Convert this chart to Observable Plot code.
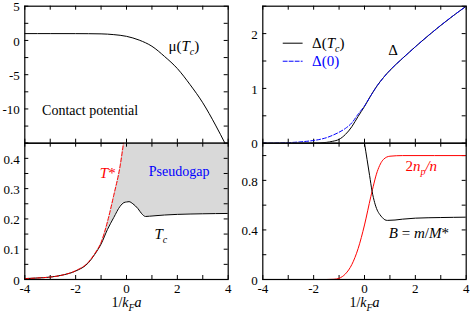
<!DOCTYPE html>
<html><head><meta charset="utf-8">
<script src="https://cdn.jsdelivr.net/npm/d3@7"></script>
<script src="https://cdn.jsdelivr.net/npm/@observablehq/plot@0.6"></script>
<style>
body{margin:0;background:#fff;}
#chart{position:relative;width:471px;height:315px;overflow:hidden;background:#fff;}
#chart svg{position:absolute;left:0;top:0;}
#chart svg, #chart svg text, #chart svg g{font-family:"Liberation Serif","Times New Roman",serif !important;}
</style></head><body><div id="chart"></div>
<script>
// ---------- data ----------
const xTickValues = [-4,-3,-2,-1,0,1,2,3,4];
const xTickLabels = [-4,-2,0,2,4];

// top-left: chemical potential mu(Tc)
const muX = [-4,-3,-2,-1.5,-1,-0.5,0,0.5,1,1.5,2,2.5,3,3.5,3.9];
const muV = [1.0,1.0,0.995,0.985,0.96,0.85,0.6,0.05,-0.85,-2.35,-4.1,-6.45,-9.1,-12.35,-15.2];
const muTicks = [-15,-12.5,-10,-7.5,-5,-2.5,0,2.5,5];
const muLabels = [-10,-5,0,5];

// bottom-left: Tc and T*
const tX =     [-4,-3.5,-3,-2.5,-2,-1.5,-1.25,-1,-0.75,-0.5,-0.25,-0.1,0,0.1,0.25,0.45,0.6,0.75,0.9,1.2,1.5,2,3,4];
const tcV =    [0.003,0.005,0.008,0.015,0.028,0.055,0.083,0.117,0.165,0.205,0.242,0.254,0.256,0.257,0.25,0.234,0.217,0.208,0.209,0.211,0.213,0.215,0.217,0.218];
const tStarV = [0.003,0.005,0.008,0.015,0.029,0.057,0.085,0.122,0.19,0.278,0.375,0.46,0.52,null,null,null,null,null,null,null,null,null,null,null];
const tTicks = [0,0.05,0.1,0.15,0.2,0.25,0.3,0.35,0.4,0.45];
const tLabels = [0,0.1,0.2,0.3,0.4];

// top-right: gap Delta
const dX =   [-4,-3.5,-3,-2.5,-2,-1.75,-1.5,-1.25,-1,-0.75,-0.5,-0.25,0,0.25,0.5,0.75,1,1.5,2,2.5,3,3.5,4];
const dTcV = [0,0,0,0,0.002,0.005,0.015,0.035,0.07,0.16,0.3,0.49,0.67,0.87,1.05,1.2,1.33,1.55,1.76,1.96,2.15,2.33,2.5];
const d0V =  [0,0.003,0.01,0.025,0.05,0.07,0.1,0.145,0.2,0.27,0.37,0.53,0.68,0.87,1.05,1.2,1.33,1.55,1.76,1.96,2.15,2.33,2.5];
const dTicks = [0,0.5,1,1.5,2,2.5];
const dLabels = [0,1,2];

// bottom-right: pair fraction and B = m/M*
const npX = [-4,-1.5,-1.2,-1,-0.75,-0.5,-0.25,0,0.25,0.5,0.75,1,1.5,4];
const npV = [0,0,0.002,0.01,0.045,0.12,0.25,0.44,0.67,0.87,0.97,0.995,1.0,1.0];
const bX = [0,0.1,0.2,0.3,0.4,0.5,0.6,0.7,0.8,0.9,1.2,1.5,2,3,4];
const bV = [1.1,0.97,0.84,0.71,0.62,0.56,0.525,0.5,0.482,0.477,0.48,0.487,0.495,0.5,0.503];
const rTicks = [0,0.2,0.4,0.6,0.8,1.0];
const rLabels = [0,0.4,0.8];

// annotation anchors (data units)
const legendLineX = [-3.2,-2.45];
const legendRows = [{key:"Δ(Tc)", y:1.825, color:"#000", dash:null},{key:"Δ(0)", y:1.496, color:"#0000ff", dash:"4,2"}];

// ---------- helpers ----------
const W = 471, H = 315;
const colL = {marginLeft:24.3, marginRight:243.3};
const colR = {marginLeft:262.3, marginRight:5.3};
const rowT = {marginTop:5.7, marginBottom:172.3};
const rowB = {marginTop:142.7, marginBottom:36};
const FONT = "Liberation Serif";
const rows = (xs, ys) => xs.map((x,i)=>({x, y: ys[i]})).filter(d=>d.y!=null);

const rich = {
  "μ(Tc)": 'μ(<tspan font-style="italic">T</tspan><tspan font-style="italic" font-size="10" dy="4">c</tspan><tspan dy="-4">)</tspan>',
  "Δ(Tc)": 'Δ(<tspan font-style="italic">T</tspan><tspan font-style="italic" font-size="10" dy="4">c</tspan><tspan dy="-4">)</tspan>',
  "Tc": '<tspan font-style="italic">T</tspan><tspan font-style="italic" font-size="10" dy="4">c</tspan>',
  "T*": '<tspan font-style="italic">T</tspan>*',
  "2np/n": '2<tspan font-style="italic">n</tspan><tspan font-style="italic" font-size="10" dy="4">p</tspan><tspan font-style="italic" dy="-4">/n</tspan>',
  "B = m/M*": '<tspan font-style="italic">B</tspan> = <tspan font-style="italic">m</tspan>/<tspan font-style="italic">M</tspan>*',
  "1/kFa": '1/<tspan font-style="italic">k</tspan><tspan font-style="italic" font-size="10" dy="4">F</tspan><tspan font-style="italic" dy="-4">a</tspan>'
};

function panel(cfg) {
  const m = {...cfg.col, ...cfg.row};
  const pw = W - m.marginLeft - m.marginRight;
  const ph = H - m.marginTop - m.marginBottom;
  const T = 4;
  const marks = [
    ...(cfg.under || []),
    Plot.tickX(xTickValues, {x: d=>d, insetTop: ph - T, stroke:"#000"}),
    Plot.tickX(xTickValues, {x: d=>d, insetBottom: ph - T, stroke:"#000"}),
    Plot.tickY(cfg.yTicks, {y: d=>d, insetRight: pw - T, stroke:"#000"}),
    Plot.tickY(cfg.yTicks, {y: d=>d, insetLeft: pw - T, stroke:"#000"}),
    Plot.axisY({ticks: cfg.yLabels, anchor:"left", tickSize:0, tickPadding:5, dy:1, tickFormat: d=>String(d), label:null, fill:"#000", fontSize:13}),
    ...(cfg.xAxis ? [
      Plot.axisX({ticks: xTickLabels, anchor:"bottom", tickSize:0, tickPadding:4, tickFormat: d=>String(d), label:null, fill:"#000", fontSize:13}),
      Plot.text(["1/kFa"], {frameAnchor:"bottom", dy:27, fontSize:14, fill:"#000"})
    ] : []),
    ...(cfg.over || []),
    Plot.frame({stroke:"#000", strokeWidth:1.2})
  ];
  const svg = Plot.plot({
    width: W, height: H, ...m,
    x: {domain:[-4,4], axis:null},
    y: {domain: cfg.yDomain, axis:null},
    style: {fontFamily: FONT, fontSize:"13px", background:"transparent", overflow:"visible", color:"#000"},
    marks
  });
  svg.setAttribute("font-family", FONT);
  svg.querySelectorAll("text").forEach(t => {
    const k = t.textContent;
    if (rich[k]) t.innerHTML = rich[k];
  });
  document.getElementById("chart").appendChild(svg);
}

// top-left
panel({
  col: colL, row: rowT, yDomain: [-15,5], yTicks: muTicks, yLabels: muLabels,
  over: [
    Plot.line(rows(muX, muV), {x:"x", y:"y", stroke:"#000", strokeWidth:1, curve:"monotone-x", clip:true}),
    Plot.text(["μ(Tc)"], {x:1.65, y:-0.77, textAnchor:"start", fontSize:15}),
    Plot.text(["Contact potential"], {x:-3.32, y:-10.3, textAnchor:"start", fontSize:14})
  ]
});

// bottom-left
const yMaxB = 0.45;
const areaRows = tX.map((x,i)=>({x, lo: tcV[i], hi: tStarV[i]==null ? yMaxB : Math.min(tStarV[i], yMaxB)}));
panel({
  col: colL, row: rowB, yDomain: [0, yMaxB], yTicks: tTicks, yLabels: tLabels, xAxis: true,
  under: [
    Plot.areaY(areaRows, {x:"x", y1:"lo", y2:"hi", fill:"#d9d9d9", curve:"monotone-x", clip:true})
  ],
  over: [
    Plot.line(rows(tX, tcV), {x:"x", y:"y", stroke:"#000", strokeWidth:1, curve:"monotone-x", clip:true}),
    Plot.line(rows(tX, tStarV), {x:"x", y:"y", stroke:"#ff0000", strokeWidth:1, strokeDasharray:"4,2", curve:"monotone-x", clip:true}),
    Plot.text(["T*"], {x:-1.05, y:0.352, textAnchor:"start", fontSize:15, fill:"#ff0000"}),
    Plot.text(["Pseudogap"], {x:0.877, y:0.355, textAnchor:"start", fontSize:14, fill:"#0000ff"}),
    Plot.text(["Tc"], {x:1.10, y:0.149, textAnchor:"start", fontSize:15})
  ]
});

// top-right
panel({
  col: colR, row: rowT, yDomain: [0,2.5], yTicks: dTicks, yLabels: dLabels,
  over: [
    Plot.line(rows(dX, dTcV), {x:"x", y:"y", stroke:"#000", strokeWidth:1, curve:"monotone-x", clip:true}),
    Plot.line(rows(dX, d0V), {x:"x", y:"y", stroke:"#0000ff", strokeWidth:1, strokeDasharray:"4,2", curve:"monotone-x", clip:true}),
    ...legendRows.map(r => Plot.line(legendLineX.map(x=>({x, y:r.y})), {x:"x", y:"y", stroke:r.color, strokeWidth:1, strokeDasharray:r.dash})),
    Plot.text(legendRows, {x:()=>-2.06, y:"y", text:"key", fill:"color", textAnchor:"start", fontSize:15}),
    Plot.text(["Δ"], {x:1.12, y:1.69, fontSize:15})
  ]
});

// bottom-right
panel({
  col: colR, row: rowB, yDomain: [0,1.1], yTicks: rTicks, yLabels: rLabels, xAxis: true,
  over: [
    Plot.line(rows(npX, npV), {x:"x", y:"y", stroke:"#ff0000", strokeWidth:1, curve:"monotone-x", clip:true}),
    Plot.line(rows(bX, bV), {x:"x", y:"y", stroke:"#000", strokeWidth:1, curve:"monotone-x", clip:true}),
    Plot.text(["2np/n"], {x:1.61, y:0.914, textAnchor:"start", fontSize:15, fill:"#ff0000"}),
    Plot.text(["B = m/M*"], {x:0.956, y:0.373, textAnchor:"start", fontSize:15})
  ]
});
</script></body></html>
